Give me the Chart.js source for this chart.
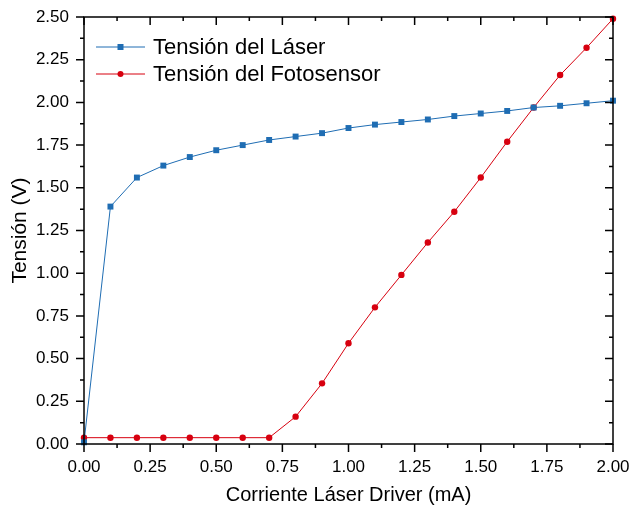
<!DOCTYPE html>
<html>
<head>
<meta charset="utf-8">
<script src="https://cdn.jsdelivr.net/npm/chart.js@4/dist/chart.umd.min.js"></script>
<style>
  html, body { margin: 0; padding: 0; background: #fff; }
  #wrap { width: 631px; height: 511px; }
</style>
</head>
<body>
<div id="wrap"><canvas id="grafica"></canvas></div>
<script>
// Corriente del driver (mA)
const corriente = [0, 0.1, 0.2, 0.3, 0.4, 0.5, 0.6, 0.7, 0.8, 0.9, 1.0,
                   1.1, 1.2, 1.3, 1.4, 1.5, 1.6, 1.7, 1.8, 1.9, 2.0];
// Tensión medida (V)
const tensionLaser = [0.01, 1.39, 1.56, 1.63, 1.68, 1.72, 1.75, 1.78, 1.80, 1.82, 1.85,
                      1.87, 1.885, 1.90, 1.92, 1.935, 1.95, 1.97, 1.98, 1.995, 2.01];
const tensionFoto = [0.037, 0.037, 0.037, 0.037, 0.037, 0.037, 0.037, 0.037, 0.16, 0.355, 0.59,
                     0.80, 0.99, 1.18, 1.36, 1.56, 1.77, 1.97, 2.16, 2.32, 2.49];
// Marcas de los ejes
const ticksX = [0, 0.25, 0.5, 0.75, 1.0, 1.25, 1.5, 1.75, 2.0];
const ticksY = [0, 0.25, 0.5, 0.75, 1.0, 1.25, 1.5, 1.75, 2.0, 2.25, 2.5];

const AZUL = '#1f6db3';
const ROJO = '#d7000f';
const FUENTE = "'Liberation Sans', Arial, sans-serif";

const puntos = (ys) => corriente.map((x, i) => ({ x: x, y: ys[i] }));

// Marco con marcas mayores y menores (fuera abajo/izquierda, dentro arriba/derecha)
const marcoEjes = {
  id: 'marcoEjes',
  afterDraw(chart) {
    const { ctx, chartArea: a, scales } = chart;
    const largo = 8, corto = 4;
    ctx.save();
    ctx.strokeStyle = '#000';
    ctx.lineWidth = 1.5;
    ctx.strokeRect(a.left, a.top, a.right - a.left, a.bottom - a.top);
    ctx.beginPath();
    const menX = ticksX.slice(1).map((v, i) => (v + ticksX[i]) / 2);
    const menY = ticksY.slice(1).map((v, i) => (v + ticksY[i]) / 2);
    const marcasX = ticksX.map(v => [v, largo]).concat(menX.map(v => [v, corto]));
    const marcasY = ticksY.map(v => [v, largo]).concat(menY.map(v => [v, corto]));
    marcasX.forEach(([v, l]) => {
      const px = scales.x.getPixelForValue(v);
      ctx.moveTo(px, a.bottom); ctx.lineTo(px, a.bottom + l);
      ctx.moveTo(px, a.top); ctx.lineTo(px, a.top + l);
    });
    marcasY.forEach(([v, l]) => {
      const py = scales.y.getPixelForValue(v);
      ctx.moveTo(a.left, py); ctx.lineTo(a.left - l, py);
      ctx.moveTo(a.right, py); ctx.lineTo(a.right - l, py);
    });
    ctx.stroke();
    ctx.restore();
  }
};

// Leyenda dentro del área del gráfico
const leyenda = {
  id: 'leyenda',
  afterDatasetsDraw(chart) {
    const { ctx, chartArea: a } = chart;
    ctx.save();
    chart.data.datasets.forEach((ds, i) => {
      const y = a.top + 30 + i * 27;
      const x0 = a.left + 12, x1 = a.left + 61, xm = (x0 + x1) / 2;
      ctx.strokeStyle = ds.borderColor;
      ctx.lineWidth = 1;
      ctx.beginPath(); ctx.moveTo(x0, y); ctx.lineTo(x1, y); ctx.stroke();
      ctx.fillStyle = ds.pointBackgroundColor;
      if (ds.pointStyle === 'rect') {
        ctx.fillRect(xm - 3, y - 3, 6, 6);
      } else {
        ctx.beginPath(); ctx.arc(xm, y, 3, 0, Math.PI * 2); ctx.fill();
      }
      ctx.fillStyle = '#000';
      ctx.font = '22px ' + FUENTE;
      ctx.textBaseline = 'middle';
      ctx.fillText(ds.label, a.left + 69, y + 1);
    });
    ctx.restore();
  }
};

new Chart(document.getElementById('grafica'), {
  type: 'line',
  data: {
    datasets: [
      {
        label: 'Tensión del Láser',
        data: puntos(tensionLaser),
        borderColor: AZUL,
        backgroundColor: AZUL,
        pointBackgroundColor: AZUL,
        pointBorderWidth: 0,
        pointStyle: 'rect',
        pointRadius: 4.2,
        borderWidth: 1,
        clip: false
      },
      {
        label: 'Tensión del Fotosensor',
        data: puntos(tensionFoto),
        borderColor: ROJO,
        backgroundColor: ROJO,
        pointBackgroundColor: ROJO,
        pointBorderWidth: 0,
        pointStyle: 'circle',
        pointRadius: 3.2,
        borderWidth: 1,
        clip: false
      }
    ]
  },
  options: {
    responsive: true,
    maintainAspectRatio: false,
    animation: false,
    layout: { padding: { top: 17, right: 18, left: 0, bottom: 0 } },
    plugins: { legend: { display: false }, tooltip: { enabled: false } },
    scales: {
      x: {
        type: 'linear',
        min: 0, max: 2,
        afterBuildTicks: (s) => { s.ticks = ticksX.map(v => ({ value: v })); },
        afterFit: (s) => { s.height = 67; s.paddingLeft = 0; s.paddingRight = 0; },
        grid: { display: false, drawTicks: false },
        border: { display: false },
        ticks: {
          padding: 13,
          color: '#000',
          font: { family: FUENTE, size: 17 },
          maxRotation: 0,
          callback: (v) => Number(v).toFixed(2)
        },
        title: {
          display: true,
          text: 'Corriente Láser Driver (mA)',
          color: '#000',
          font: { family: FUENTE, size: 20 },
          padding: { top: 4, bottom: 4 }
        }
      },
      y: {
        min: 0, max: 2.5,
        afterBuildTicks: (s) => { s.ticks = ticksY.map(v => ({ value: v })); },
        afterFit: (s) => { s.width = 84; s.paddingTop = 0; s.paddingBottom = 0; },
        grid: { display: false, drawTicks: false },
        border: { display: false },
        ticks: {
          padding: 15,
          color: '#000',
          font: { family: FUENTE, size: 17 },
          callback: (v) => Number(v).toFixed(2)
        },
        title: {
          display: true,
          text: 'Tensión (V)',
          color: '#000',
          font: { family: FUENTE, size: 21 },
          padding: { top: 8, bottom: 4 }
        }
      }
    }
  },
  plugins: [marcoEjes, leyenda]
});
</script>
</body>
</html>
